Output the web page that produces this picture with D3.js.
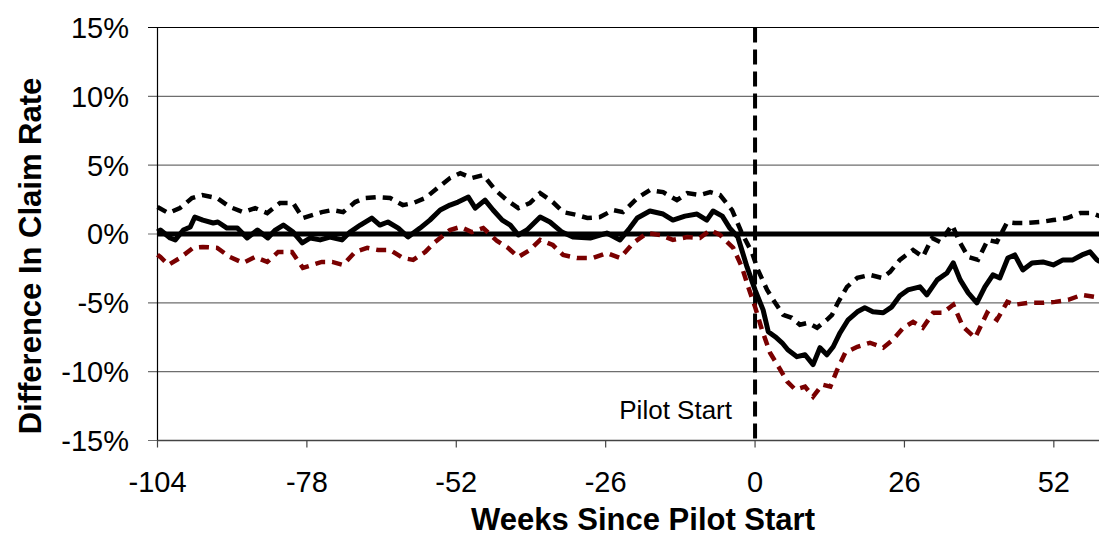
<!DOCTYPE html>
<html><head><meta charset="utf-8">
<script src="https://cdn.jsdelivr.net/npm/d3@7"></script>
<style>body{margin:0;background:#fff}svg{display:block}text{font-family:"Liberation Sans",Arial,sans-serif}</style>
</head><body><svg id="c" width="1099" height="536"></svg>
<script>
const xTicks = [-104, -78, -52, -26, 0, 26, 52];
const yTicks = [15, 10, 5, 0, -5, -10, -15];
const centerWeeks = [-104,-103.5,-101.8,-100.9,-99.5,-98.3,-97.5,-96.1,-94.3,-93.5,-91.9,-90.1,-88.4,-86.6,-84.8,-83.5,-82.1,-80.4,-78.8,-77.4,-75.7,-74.0,-71.9,-70.5,-68.7,-66.7,-65.3,-63.9,-62.1,-60.4,-58.3,-56.6,-54.8,-53.1,-51.7,-49.9,-48.7,-47.0,-45.6,-44.0,-42.6,-41.2,-39.7,-37.4,-35.7,-33.6,-31.7,-28.7,-25.8,-23.5,-21.8,-20.5,-18.3,-16.0,-14.3,-12.2,-10.1,-8.4,-7.3,-5.7,-4.4,-3.0,-1.4,0,1.4,2.3,3.5,4.7,5.7,7.3,8.7,10.1,11.3,12.5,13.6,14.8,16.2,17.8,19.1,20.5,22.3,23.8,25.2,26.6,28.7,29.9,31.7,33.4,34.5,35.7,37.1,38.6,40.0,41.4,42.6,44.0,45.2,46.6,48.2,50.1,51.9,53.6,55.3,56.9,58.3,59.5,60];
const centerValues = [0.15,0.29,-0.29,-0.43,0.29,0.51,1.23,1.01,0.80,0.87,0.43,0.43,-0.29,0.29,-0.29,0.29,0.65,0.14,-0.65,-0.29,-0.43,-0.22,-0.43,0.14,0.65,1.16,0.65,0.87,0.43,-0.22,0.43,1.01,1.74,2.10,2.32,2.68,1.88,2.46,1.74,1.01,0.65,-0.07,0.29,1.23,0.87,0.14,-0.22,-0.29,0.07,-0.43,0.43,1.16,1.67,1.45,1.01,1.30,1.45,1.01,1.67,1.30,0.43,-0.22,-2.39,-4.06,-5.51,-7.10,-7.46,-7.90,-8.41,-8.91,-8.77,-9.49,-8.26,-8.77,-8.19,-7.17,-6.23,-5.65,-5.36,-5.65,-5.72,-5.29,-4.49,-4.06,-3.84,-4.42,-3.33,-2.83,-2.10,-3.33,-4.28,-5.00,-3.84,-2.97,-3.19,-1.74,-1.52,-2.61,-2.10,-2.03,-2.25,-1.88,-1.88,-1.52,-1.30,-1.88,-2.0];
const upperWeeks = [-104,-102.1,-100.1,-98.0,-96.2,-93.6,-91.4,-89.1,-87.0,-84.9,-82.7,-80.4,-78.7,-75.4,-73.6,-71.7,-69.6,-67.9,-65.8,-63.5,-61.3,-59.5,-57.4,-55.3,-53.1,-51.3,-49.3,-47.3,-45.2,-43.2,-41.2,-39.2,-37.4,-35.2,-33.4,-31.0,-29.2,-27.0,-24.7,-23.0,-20.5,-18.3,-16.0,-13.6,-11.8,-9.6,-7.8,-6.1,-4.0,-2.3,-0.5,0.5,2.1,3.5,4.9,6.4,7.8,9.2,10.8,12.5,13.4,14.4,16.0,17.8,20.0,22.1,23.5,25.2,27.5,29.2,30.8,32.2,34.3,35.7,37.1,38.8,40.5,42.1,43.9,45.2,47.3,49.6,51.9,54.3,56.6,58.6,60];
const upperValues = [1.96,1.52,1.88,2.61,2.83,2.61,1.96,1.59,1.88,1.52,2.25,2.25,1.16,1.59,1.74,1.59,2.32,2.61,2.68,2.61,2.10,2.25,2.61,3.33,4.06,4.42,4.06,4.28,3.19,2.46,1.88,2.25,2.97,2.32,1.59,1.38,1.16,1.23,1.74,1.59,2.61,3.19,3.04,2.46,2.97,2.83,3.04,2.83,1.74,0.07,-1.38,-2.61,-4.06,-5.00,-5.87,-6.09,-6.59,-6.45,-6.81,-6.23,-5.87,-5.00,-3.84,-3.19,-2.97,-3.19,-2.75,-1.88,-1.16,-1.67,-0.29,-0.58,0.65,-0.65,-1.67,-1.88,-0.43,-0.58,0.87,0.80,0.80,0.87,1.01,1.16,1.52,1.52,1.30];
const lowerWeeks = [-104,-103.5,-102.1,-100.1,-97.8,-96.1,-93.6,-91.4,-89.1,-87.0,-84.9,-83.0,-80.6,-78.7,-75.4,-73.6,-71.7,-69.6,-67.5,-65.6,-63.5,-61.3,-59.5,-57.4,-55.7,-53.1,-51.3,-49.3,-47.3,-44.9,-43.0,-41.2,-39.2,-37.4,-35.2,-33.4,-31.0,-28.2,-25.8,-23.5,-21.2,-18.8,-16.5,-14.3,-11.8,-9.6,-7.8,-6.1,-3.8,-2.3,-1.2,0,1.2,2.6,4.4,5.6,7.0,8.7,10.1,11.7,13.1,14.3,15.7,17.8,20.0,22.3,24.0,25.8,27.5,29.2,31.0,32.7,34.5,36.2,38.3,40.4,42.1,43.9,45.2,47.5,49.9,52.2,54.5,56.9,59.2,60];
const lowerValues = [-1.5,-1.67,-2.25,-1.74,-1.01,-0.94,-1.01,-1.67,-2.10,-1.67,-2.03,-1.30,-1.30,-2.46,-2.03,-2.03,-2.25,-1.30,-1.01,-1.16,-1.16,-1.74,-1.88,-1.30,-0.58,0.29,0.51,0.14,0.43,-0.51,-1.01,-1.67,-1.16,-0.43,-0.80,-1.52,-1.74,-1.74,-1.38,-1.74,-0.65,0.07,-0.07,-0.43,-0.22,-0.29,0.29,-0.07,-1.01,-2.39,-3.84,-5.29,-6.96,-8.62,-9.86,-10.72,-11.30,-11.09,-11.81,-10.94,-11.09,-9.86,-8.62,-8.19,-7.90,-8.26,-7.68,-6.81,-6.38,-6.81,-5.72,-5.72,-5.14,-6.74,-7.54,-5.72,-6.23,-4.93,-5.14,-5.00,-5.00,-4.93,-4.78,-4.42,-4.57,-4.5];

const svg = d3.select("#c");
const x = d3.scaleLinear().domain([-104, 60]).range([157.5, 1099.8]);
const y = d3.scaleLinear().domain([-15, 15]).range([440.5, 27.5]);

svg.append("g").selectAll("line").data(yTicks).join("line")
  .attr("x1", 148).attr("x2", 1099)
  .attr("y1", d => y(d)).attr("y2", d => y(d))
  .attr("stroke", d => d === 15 ? "#000" : "#6e6e6e").attr("stroke-width", 1.2);

svg.append("line").attr("x1", 157.5).attr("x2", 157.5).attr("y1", y(15)).attr("y2", y(-15)).attr("stroke", "#000").attr("stroke-width", 1.2);
svg.append("line").attr("x1", 157.5).attr("x2", 1099).attr("y1", y(-15)).attr("y2", y(-15)).attr("stroke", "#444").attr("stroke-width", 1.5);
svg.append("g").selectAll("line").data(xTicks).join("line")
  .attr("x1", d => x(d)).attr("x2", d => x(d)).attr("y1", y(-15)).attr("y2", y(-15) + 7)
  .attr("stroke", "#444").attr("stroke-width", 1.2);

svg.append("g").selectAll("text").data(yTicks).join("text")
  .attr("x", 129).attr("y", d => y(d)).attr("dy", "0.36em")
  .attr("text-anchor", "end").attr("font-size", 29).attr("fill", "#000")
  .text(d => d + "%");
svg.append("g").selectAll("text").data(xTicks).join("text")
  .attr("x", d => x(d)).attr("y", 492)
  .attr("text-anchor", "middle").attr("font-size", 29).attr("fill", "#000")
  .text(d => d);

svg.append("text").attr("x", 643).attr("y", 530).attr("text-anchor", "middle")
  .attr("font-size", 31).attr("font-weight", "bold").text("Weeks Since Pilot Start");
svg.append("text").attr("transform", "translate(41,256) rotate(-90)").attr("text-anchor", "middle")
  .attr("font-size", 31).attr("font-weight", "bold").text("Difference In Claim Rate");

svg.append("line").attr("x1", 157.5).attr("x2", 1099).attr("y1", y(0)).attr("y2", y(0))
  .attr("stroke", "#000").attr("stroke-width", 5);

svg.append("line").attr("x1", x(0)).attr("x2", x(0)).attr("y1", y(15)).attr("y2", y(-15))
  .attr("stroke", "#000").attr("stroke-width", 4).attr("stroke-dasharray", "15,7");
svg.append("text").attr("x", 732).attr("y", 419).attr("text-anchor", "end")
  .attr("font-size", 26).text("Pilot Start");

const line = d3.line().x(d => x(d[0])).y(d => y(d[1]));
const zip = (a, b) => a.map((w, i) => [w, b[i]]);

svg.append("path").datum(zip(upperWeeks, upperValues)).attr("d", line)
  .attr("fill", "none").attr("stroke", "#000").attr("stroke-width", 4.5).attr("stroke-dasharray", "10,7");
svg.append("path").datum(zip(lowerWeeks, lowerValues)).attr("d", line)
  .attr("fill", "none").attr("stroke", "#7a0000").attr("stroke-width", 4.5).attr("stroke-dasharray", "10,7");
svg.append("path").datum(zip(centerWeeks, centerValues)).attr("d", line)
  .attr("fill", "none").attr("stroke", "#000").attr("stroke-width", 5).attr("stroke-linejoin", "round");
</script></body></html>
